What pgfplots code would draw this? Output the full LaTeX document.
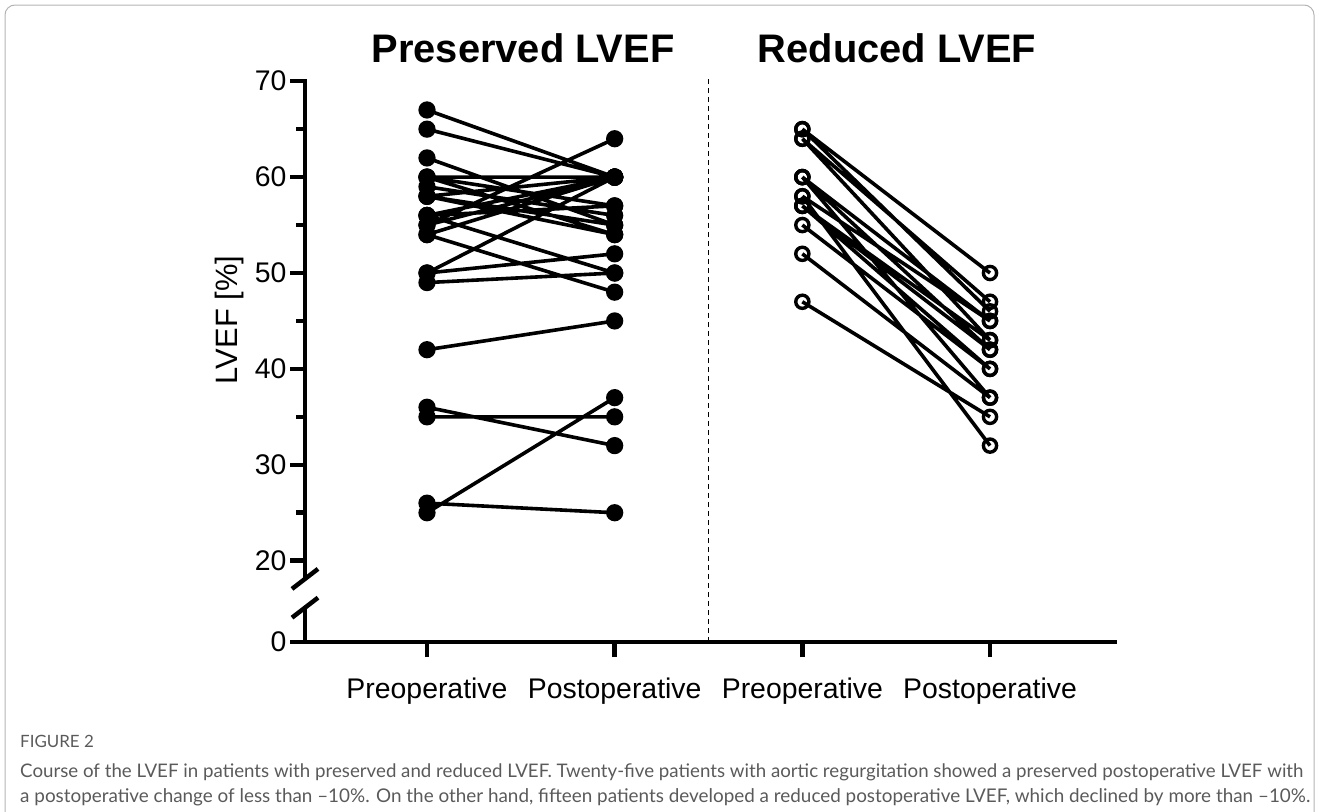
\documentclass[border=0pt]{standalone}
\usepackage{pgfplots}
\pgfplotsset{compat=1.18}
\usepackage{pgfplotstable}
\usepackage{fontspec}
\setmainfont{Liberation Sans}
\newfontfamily\capfont{Lato}
\definecolor{capgray}{HTML}{5A5A5A}
\definecolor{framegray}{HTML}{B4B4B4}

% x: 1 = preoperative, 2 = postoperative (preserved)
%    3 = preoperative, 4 = postoperative (reduced)
% nan rows split the patients into separate segments
\pgfplotstableread{
x y
1 67
2 60
nan nan
1 65
2 60
nan nan
1 62
2 55
nan nan
1 60
2 60
nan nan
1 60
2 57
nan nan
1 60
2 54
nan nan
1 59
2 56
nan nan
1 58
2 60
nan nan
1 58
2 54
nan nan
1 58
2 55
nan nan
1 56
2 60
nan nan
1 56
2 50
nan nan
1 56
2 57
nan nan
1 55
2 64
nan nan
1 55
2 60
nan nan
1 54
2 48
nan nan
1 54
2 60
nan nan
1 50
2 60
nan nan
1 50
2 52
nan nan
1 49
2 50
nan nan
1 42
2 45
nan nan
1 36
2 32
nan nan
1 35
2 35
nan nan
1 26
2 25
nan nan
1 25
2 37
}\preserved

\pgfplotstableread{
x y
3 65
4 50
nan nan
3 65
4 46
nan nan
3 64
4 47
nan nan
3 64
4 43
nan nan
3 60
4 45
nan nan
3 60
4 42
nan nan
3 60
4 37
nan nan
3 58
4 32
nan nan
3 58
4 45
nan nan
3 57
4 43
nan nan
3 57
4 40
nan nan
3 57
4 42
nan nan
3 55
4 40
nan nan
3 52
4 37
nan nan
3 47
4 35
}\reduced

\begin{document}
\begin{tikzpicture}
\useasboundingbox (0,0) rectangle (1319bp,-812bp);
\draw[framegray, line width=1bp, rounded corners=10bp]
  (5bp,-900bp) -- (5bp,-5bp) -- (1314bp,-5bp) -- (1314bp,-900bp);

\begin{axis}[
  at={(305bp,-642bp)}, anchor=south west,
  scale only axis, width=810bp, height=560.8bp,
  xmin=0.35, xmax=4.666, ymin=11.52, ymax=70,
  axis x line=bottom, axis y line=left,
  axis line style={-, line width=4.5bp, line cap=rect},
  xtick={1,2,3,4},
  xticklabels={Preoperative,Postoperative,Preoperative,Postoperative},
  ytick={11.52,20,30,40,50,60,70},
  yticklabels={0,20,30,40,50,60,70},
  minor ytick={25,35,45,55,65},
  tick align=outside, major tick length=15bp, minor tick length=9bp,
  every tick/.style={black, line width=4.5bp},
  tick label style={font=\fontsize{28.5}{34}\selectfont},
  xticklabel style={yshift=-17bp},
  /pgf/number format/assume math mode=true,
  unbounded coords=jump, clip=false,
]
\addplot[black, line width=3.6bp, mark=*, mark size=6.8bp,
  mark options={solid, fill=black}] table[x=x, y=y] {\preserved};
\addplot[black, line width=3.6bp, mark=o, mark size=6.6bp,
  mark options={solid, line width=3.4bp}] table[x=x, y=y] {\reduced};

% separator between the two groups
\draw[black, line width=1.5bp, dash pattern=on 5bp off 4bp]
  (axis cs:2.5,11.52) -- (axis cs:2.5,70.3);

% axis break
\fill[white] ([xshift=-8bp]axis cs:0.35,15.1) rectangle ([xshift=8bp]axis cs:0.35,18.1);
\draw[black, line width=4.5bp]
  ([xshift=-13bp, yshift=-10bp]axis cs:0.35,18.1) -- ([xshift=13bp, yshift=10bp]axis cs:0.35,18.1);
\draw[black, line width=4.5bp]
  ([xshift=-13bp, yshift=-10bp]axis cs:0.35,15.1) -- ([xshift=13bp, yshift=10bp]axis cs:0.35,15.1);
\end{axis}

\node[font=\bfseries\fontsize{40}{48}\selectfont, anchor=base] at (523bp,-62bp) {Preserved LVEF};
\node[font=\bfseries\fontsize{40}{48}\selectfont, anchor=base] at (897bp,-62bp) {Reduced LVEF};
\node[rotate=90, font=\fontsize{31}{36}\selectfont] at (230bp,-320bp) {LVEF [\%]};

\node[anchor=base west, inner sep=0pt, text=capgray, font=\capfont\fontsize{17}{20}\selectfont]
  at (20bp,-747bp) {FIGURE 2};
\node[anchor=base west, inner sep=0pt, text=capgray] at (20bp,-777bp)
  {\resizebox{1283bp}{!}{\capfont\fontsize{18}{22}\selectfont Course of the LVEF in patients with preserved and reduced LVEF. Twenty-five patients with aortic regurgitation showed a preserved postoperative LVEF with}};
\node[anchor=base west, inner sep=0pt, text=capgray] at (20bp,-802bp)
  {\resizebox{1290bp}{!}{\capfont\fontsize{18}{22}\selectfont a postoperative change of less than –10\%. On the other hand, fifteen patients developed a reduced postoperative LVEF, which declined by more than –10\%.}};
\end{tikzpicture}
\end{document}
